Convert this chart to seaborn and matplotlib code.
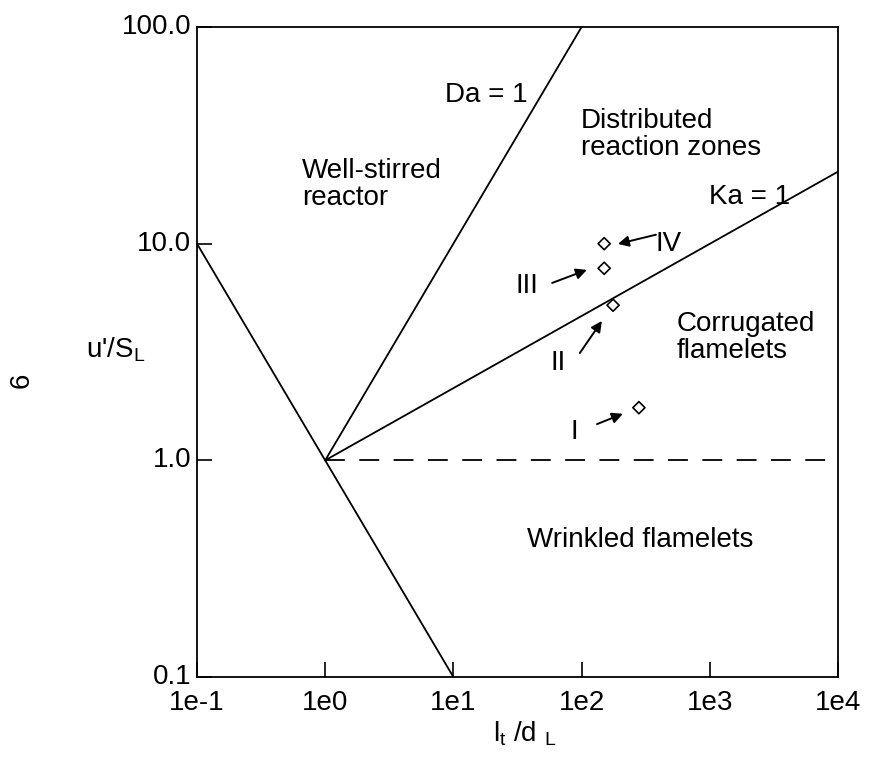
import numpy as np
import pandas as pd
import matplotlib
matplotlib.use("Agg")
import matplotlib.pyplot as plt
import matplotlib.transforms as mtransforms
import seaborn as sns

# =====================================================
# DATA
# =====================================================

# boundary lines (lt/dL, u'/SL)
left_x = [0.1, 10.0]
left_y = [10.0, 0.1]

da_x = [1.0, 100.0]
da_y = [1.0, 100.0]

ka_x = [1.0, 1e4]
ka_y = [1.0, 21.5]

unity_x = [1.0, 1e4]
unity_y = [1.0, 1.0]

# flames I..IV
case_names = ["I", "II", "III", "IV"]
case_x = [280.0, 176.0, 150.0, 150.0]
case_y = [1.75, 5.2, 7.7, 10.0]

# label positions and arrow tails / heads
label_x = [87.0, 65.5, 37.5, 481.0]
label_y = [1.35, 2.81, 6.38, 10.0]
tail_x = [132.0, 97.0, 59.0, 380.0]
tail_y = [1.47, 3.13, 6.59, 11.0]
head_x = [210.0, 144.0, 110.0, 192.0]
head_y = [1.64, 4.40, 7.57, 9.97]

x_ticks = [1e-1, 1e0, 1e1, 1e2, 1e3, 1e4]
x_labels = ["1e-1", "1e0", "1e1", "1e2", "1e3", "1e4"]
y_ticks = [0.1, 1.0, 10.0, 100.0]
y_labels = ["0.1", "1.0", "10.0", "100.0"]

# =====================================================
# STYLE
# =====================================================

sns.set_style("ticks")
plt.rcParams["font.family"] = ["Liberation Sans", "DejaVu Sans"]
plt.rcParams["mathtext.default"] = "regular"
plt.rcParams["text.color"] = "black"
plt.rcParams["axes.labelcolor"] = "black"
plt.rcParams["xtick.color"] = "black"
plt.rcParams["ytick.color"] = "black"

FS = 20

fig = plt.figure(figsize=(8.7, 7.63), dpi=100)
ax = fig.add_axes([0.2264, 0.1127, 0.7368, 0.8519])

# =====================================================
# LINES
# =====================================================

for xs, ys in [
    (left_x, left_y),
    (da_x, da_y),
    (ka_x, ka_y),
]:
    sns.lineplot(
        x=xs,
        y=ys,
        ax=ax,
        color="black",
        linewidth=1.3
    )

sns.lineplot(
    x=unity_x,
    y=unity_y,
    ax=ax,
    color="black",
    linewidth=1.3
)
ax.lines[-1].set_dashes([11, 8])

sns.scatterplot(
    x=case_x,
    y=case_y,
    ax=ax,
    marker="D",
    s=38,
    facecolors="none",
    edgecolors="black",
    linewidth=1.2,
    zorder=5
)

# =====================================================
# AXES
# =====================================================

ax.set_xscale("log")
ax.set_yscale("log")
ax.set_xlim(0.1, 1e4)
ax.set_ylim(0.1, 100)

ax.set_xticks(x_ticks)
ax.set_xticklabels(x_labels, fontsize=FS)
ax.set_yticks(y_ticks)
ax.set_yticklabels(y_labels, fontsize=FS)
ax.minorticks_off()
ax.tick_params(direction="in", length=11, width=1.2)
ax.tick_params(axis="x", pad=9)
ax.tick_params(axis="y", pad=4)

# y tick labels sit a little high in the original
shift = mtransforms.ScaledTranslation(0, 3 / 100, fig.dpi_scale_trans)
for lab in ax.get_yticklabels():
    lab.set_transform(lab.get_transform() + shift)

for sp in ax.spines.values():
    sp.set_linewidth(1.3)
    sp.set_color("black")

ax.set_xlabel(r"l$_t$ /d $_L$", fontsize=FS)
ax.xaxis.set_label_coords(0.512, -0.066)
ax.set_ylabel(r"u'/S$_L$", fontsize=FS, rotation=0, ha="center", va="center")
ax.yaxis.set_label_coords(-0.126, 0.503)

# =====================================================
# ANNOTATIONS
# =====================================================

ax.text(38.2, 48.5, "Da = 1", fontsize=FS, ha="right", va="center")
ax.text(0.66, 18.7, "Well-stirred\nreactor", fontsize=FS,
        ha="left", va="center", linespacing=1.05)
ax.text(99.0, 32.0, "Distributed\nreaction zones", fontsize=FS,
        ha="left", va="center", linespacing=1.05)
ax.text(4230, 16.4, "Ka = 1", fontsize=FS, ha="right", va="center")
ax.text(555, 3.67, "Corrugated\nflamelets", fontsize=FS,
        ha="left", va="center", linespacing=1.05)
ax.text(37.5, 0.43, "Wrinkled flamelets", fontsize=FS,
        ha="left", va="center")

for name, lx, ly, tx, ty, hx, hy in zip(
    case_names, label_x, label_y, tail_x, tail_y, head_x, head_y
):
    ax.text(lx, ly, name, fontsize=FS, ha="center", va="center")
    ax.annotate(
        "",
        xy=(hx, hy),
        xytext=(tx, ty),
        arrowprops=dict(
            arrowstyle="-|>",
            color="black",
            lw=1.4,
            mutation_scale=16,
            shrinkA=0,
            shrinkB=0
        )
    )

fig.text(22 / 870, 1 - 380 / 763, "6", fontsize=FS,
         rotation=90, ha="center", va="center")

fig.savefig("out.png", dpi=100)
